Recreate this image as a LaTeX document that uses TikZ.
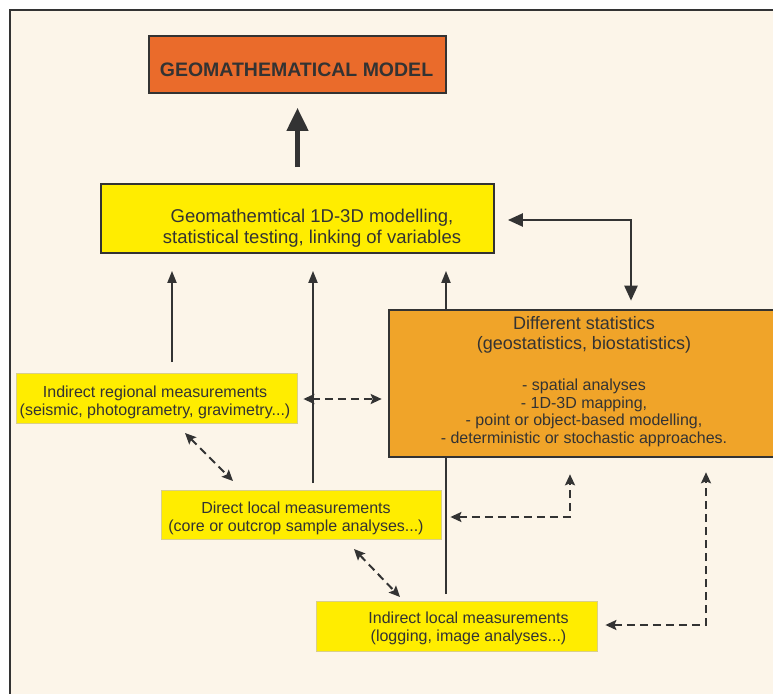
\documentclass[tikz,border=0pt]{standalone}
\usepackage{fontspec}
\setmainfont{Liberation Sans}
\usetikzlibrary{arrows.meta}
\definecolor{cream}{HTML}{FCF5E9}
\definecolor{modelor}{HTML}{EA6B2B}
\definecolor{yel}{HTML}{FFED00}
\definecolor{statsor}{HTML}{F0A429}
\definecolor{ink}{HTML}{333333}
\definecolor{ybord}{HTML}{D9CF8A}
\tikzset{
  box/.style={draw=ink, line width=1.8pt, inner sep=0pt},
  smallbox/.style={draw=ybord, line width=0.8pt, fill=yel, inner sep=0pt},
  txt/.style={text=ink, align=center, inner sep=0pt},
  arr/.style={draw=ink, line width=2pt, -{Triangle[length=12pt,width=9pt]}},
  darr/.style={draw=ink, line width=2pt, dash pattern=on 8pt off 5pt, {Stealth[length=11pt,width=10pt,inset=2pt]}-{Stealth[length=11pt,width=10pt,inset=2pt]}},
  bigarr/.style={draw=ink, line width=4.5pt, -{Triangle[length=23pt,width=21pt]}},
  dblarr/.style={draw=ink, line width=2.4pt, {Triangle[length=15pt,width=13pt]}-{Triangle[length=15pt,width=13pt]}},
}
\begin{document}
\begin{tikzpicture}[x=1pt,y=-1pt]
\useasboundingbox (0,0) rectangle (773,693);
\fill[white] (0,0) rectangle (773,693);
\draw[ink, line width=1.6pt, fill=cream] (10,10) rectangle (800,720);

% boxes
\node[box, fill=modelor, minimum width=297pt, minimum height=57pt] (model) at (297.5,64.5) {};
\node[txt, font=\bfseries\fontsize{19.5}{22}\selectfont] (modelt) at (296.5,70) {GEOMATHEMATICAL MODEL};

\node[box, fill=yel, minimum width=393pt, minimum height=69pt] (gm) at (297.5,218.5) {};
\node[txt, font=\fontsize{18.5}{21}\selectfont] (gmt) at (312,228) {Geomathemtical 1D-3D modelling,\\statistical testing, linking of variables};

% line behind the statistics box
\coordinate (c446) at (446,594);
\draw[arr] (c446) -- ([yshift=-17pt]gm.south -| c446);

\node[box, fill=statsor, line width=2.6pt, minimum width=401pt, minimum height=147pt] (stat) at (589.5,383.5) {};
\node[txt, font=\fontsize{18}{19.5}\selectfont] (statt) at (584,335) {Different statistics\\(geostatistics, biostatistics)};
\node[txt, font=\fontsize{16}{17.7}\selectfont] (statl) at (584,413) {- spatial analyses\\- 1D-3D mapping,\\- point or object-based modelling,\\- deterministic or stochastic approaches.};

\node[smallbox, minimum width=281pt, minimum height=50pt] (reg) at (156.5,398) {};
\node[txt, font=\fontsize{16}{18}\selectfont] (regt) at (155,402) {Indirect regional measurements\\(seismic, photogrametry, gravimetry...)};

\node[smallbox, minimum width=280pt, minimum height=49pt] (dir) at (301,514.5) {};
\node[txt, font=\fontsize{16}{18}\selectfont] (dirt) at (296,518) {Direct local measurements\\(core or outcrop sample analyses...)};

\node[smallbox, minimum width=281pt, minimum height=50pt] (ind) at (456.5,626) {};
\node[txt, font=\fontsize{16}{18}\selectfont] (indt) at (468.5,628) {Indirect local measurements\\(logging, image analyses...)};

% connectors
\draw[bigarr] ([yshift=16pt]gm.north) -- ([yshift=-14pt]model.south);

\coordinate (c172) at (172,362);
\draw[arr] (c172) -- ([yshift=-17pt]gm.south -| c172);
\coordinate (c313) at (313,483);
\draw[arr] (c313) -- ([yshift=-17pt]gm.south -| c313);

\coordinate (c631) at (631,220);
\draw[dblarr] ([xshift=13pt]gm.east |- c631) -- (c631) -- ([yshift=8pt]stat.north -| c631);

\draw[darr] ([xshift=6pt]reg.east |- 0,399) -- ([xshift=-6pt]stat.west |- 0,399);
\draw[darr] (185,433) -- (233,481);
\coordinate (c570) at (570,517);
\draw[darr] ([xshift=9pt]dir.east |- c570) -- (c570) -- ([yshift=-16pt]stat.south -| c570);
\draw[darr] (354,549) -- (400,597);
\coordinate (c706) at (706,625);
\draw[darr] ([xshift=8pt]ind.east |- c706) -- (c706) -- ([yshift=-14pt]stat.south -| c706);
\end{tikzpicture}
\end{document}
